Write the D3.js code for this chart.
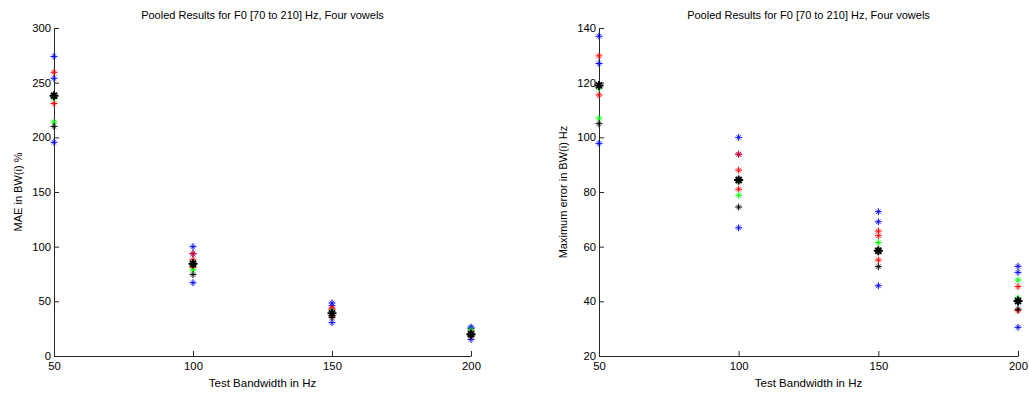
<!DOCTYPE html>
<html><head><meta charset="utf-8">
<script src="https://cdn.jsdelivr.net/npm/d3@7"></script>
<style>body{margin:0;background:#fff}svg{display:block}text{font-family:"Liberation Sans",Arial,sans-serif;fill:#000}</style>
</head><body>
<svg id="c" width="1029" height="394"></svg>
<script>
const title = "Pooled Results for F0 [70 to 210] Hz, Four vowels";
const xLabel = "Test Bandwidth in Hz";
const bandwidths = [50, 100, 150, 200];
const xTicks = [50, 100, 150, 200];
const leftYTicks = [0, 50, 100, 150, 200, 250, 300];
const rightYTicks = [20, 40, 60, 80, 100, 120, 140];

// Left panel: MAE in BW(i) % — values per bandwidth (one list per bandwidth)
const leftBlue  = [[274, 254, 195.5], [100, 93.5, 67], [48.5, 46, 30.5], [26.4, 25.3, 15.2]];
const leftRed   = [[259.5, 231], [93.5, 88, 81], [43.8, 42.7, 36.7], [22.7, 18.3]];
const leftGreen = [[236, 214], [78.8, 84], [41, 39], [23.9, 20.6]];
const leftBlack = [[210], [74.5], [35.1], [18.5]];
const leftMean  = [238, 84.4, 39, 20];

// Right panel: Maximum error in BW(i) Hz
const rightBlue  = [[137, 127, 97.8], [100, 93.8, 66.9], [72.8, 69.1, 45.7], [52.8, 50.6, 30.5]];
const rightRed   = [[129.8, 115.5], [93.8, 88, 81], [65.7, 64, 55.1], [45.4, 36.6]];
const rightGreen = [[118, 107], [78.8, 84], [61.5, 58.5], [47.8, 41.2]];
const rightBlack = [[105], [74.5], [52.7], [37.1]];
const rightMean  = [119, 84.4, 58.5, 40.1];

const svg = d3.select("#c");

function asterisk(g, px, py, color, big) {
  const a = big ? 4.5 : 3.5, d = big ? 3 : 2.3, w = big ? 2 : 1;
  const plus = `M${px-a},${py}H${px+a}M${px},${py-a}V${py+a}`;
  const cross = `M${px-d},${py-d}L${px+d},${py+d}M${px-d},${py+d}L${px+d},${py-d}`;
  g.append("path").attr("d", cross).attr("stroke", color).attr("stroke-width", w).attr("fill", "none").attr("opacity", big ? 1 : 0.75);
  g.append("path").attr("d", plus).attr("stroke", color).attr("stroke-width", w).attr("fill", "none");
}

function panel(opts) {
  const {x0, x1, y0, y1, yDomain, yTicks, yLabel, yLabelX, series, mean} = opts;
  const x = d3.scaleLinear().domain([50, 200]).range([x0, x1]);
  const y = d3.scaleLinear().domain(yDomain).range([y1, y0]);
  const g = svg.append("g");

  const xa = g.append("g").attr("transform", `translate(0,${y1})`)
    .call(d3.axisBottom(x).tickValues(xTicks).tickSizeInner(-5).tickSizeOuter(0).tickPadding(9));
  const ya = g.append("g").attr("transform", `translate(${x0},0)`)
    .call(d3.axisLeft(y).tickValues(yTicks).tickSizeInner(-5).tickSizeOuter(0).tickPadding(3));
  [xa, ya].forEach(a => {
    a.select(".domain").attr("stroke", "#262626");
    a.selectAll(".tick line").attr("stroke", "#262626");
    a.selectAll(".tick text").attr("font-size", 11.3).attr("font-family", '"Liberation Sans",Arial,sans-serif').attr("fill", "#000");
  });
  xa.selectAll(".tick text").attr("dy", "0.45em");
  ya.selectAll(".tick text").attr("dy", "0.3em");

  g.append("text").attr("x", (x0 + x1) / 2).attr("y", 19).attr("text-anchor", "middle").attr("font-size", 11).text(title);
  g.append("text").attr("x", (x0 + x1) / 2).attr("y", 387).attr("text-anchor", "middle").attr("font-size", 11.5).text(xLabel);
  g.append("text").attr("transform", `translate(${yLabelX},${(y0 + y1) / 2}) rotate(-90)`)
    .attr("text-anchor", "middle").attr("font-size", 11).text(yLabel);

  const pts = g.append("g");
  series.forEach(s => {
    s.data.forEach((vals, i) => vals.forEach(v => asterisk(pts, x(bandwidths[i]), y(v), s.color, false)));
  });
  mean.forEach((v, i) => asterisk(pts, x(bandwidths[i]), y(v), "#000", true));
}

panel({
  x0: 54, x1: 471, y0: 28, y1: 356, yDomain: [0, 300], yTicks: leftYTicks,
  yLabel: "MAE in BW(i) %", yLabelX: 22,
  series: [
    {color: "#0000ff", data: leftBlue}, {color: "#ff0000", data: leftRed},
    {color: "#00ff00", data: leftGreen}, {color: "#000000", data: leftBlack}
  ],
  mean: leftMean
});
panel({
  x0: 599, x1: 1018, y0: 28, y1: 356, yDomain: [20, 140], yTicks: rightYTicks,
  yLabel: "Maximum error in BW(i) Hz", yLabelX: 567,
  series: [
    {color: "#0000ff", data: rightBlue}, {color: "#ff0000", data: rightRed},
    {color: "#00ff00", data: rightGreen}, {color: "#000000", data: rightBlack}
  ],
  mean: rightMean
});
</script>
</body></html>
